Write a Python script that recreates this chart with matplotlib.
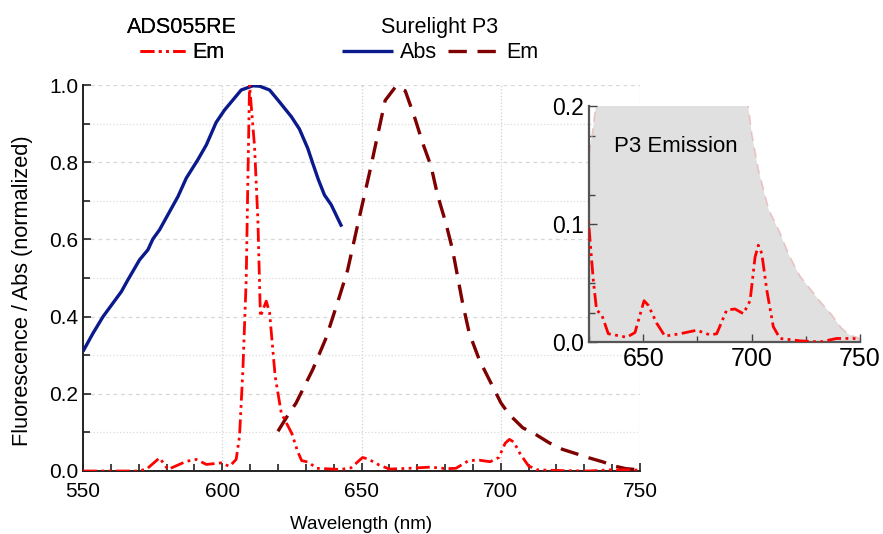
import matplotlib
matplotlib.use("Agg")
import matplotlib.pyplot as plt
from matplotlib.ticker import MultipleLocator, FixedLocator

plt.rcParams['font.family'] = ['Liberation Sans', 'DejaVu Sans']

# ---- data ----
abs_wl = [550, 553.6, 557.2, 563.8, 566.1, 570.3, 573.3, 575.1, 577.5, 581.1, 584.1, 587.1,
          591.2, 594.3, 597.8, 600.8, 603.8, 606.8, 611.0, 613.4, 617.0, 620.0, 624.8, 627.7,
          630.7, 632.5, 634.5, 636.7, 639.1, 642.9]
abs_val = [0.31, 0.357, 0.40, 0.465, 0.495, 0.547, 0.573, 0.601, 0.625, 0.672, 0.711, 0.759,
           0.806, 0.845, 0.903, 0.935, 0.961, 0.987, 0.998, 0.997, 0.987, 0.961, 0.918, 0.886,
           0.836, 0.797, 0.755, 0.715, 0.69, 0.633]

p3em_wl = [620, 623, 626.5, 632.5, 637.3, 642, 645, 649, 652.8, 655.2, 658.5, 662.4, 665.7,
           669, 672, 675, 677.3, 680.3, 682.7, 686.3, 688.7, 692.3, 697.1, 700.1, 703.1,
           707.9, 712.7, 717.4, 722.2, 727, 731.7, 736.5, 741.3, 745, 750]
p3em_val = [0.103, 0.138, 0.176, 0.263, 0.345, 0.45, 0.52, 0.65, 0.77, 0.85, 0.96, 0.997, 0.985,
            0.918, 0.849, 0.789, 0.715, 0.642, 0.573, 0.435, 0.357, 0.288, 0.219, 0.176, 0.146,
            0.112, 0.094, 0.073, 0.056, 0.045, 0.034, 0.024, 0.012, 0.006, 0.003]

ads_wl = [550, 560, 569, 572.7, 577.5, 580.5, 587.1, 590.7, 594.3, 599.6, 602.6, 605, 606.2,
          607.4, 608.6, 609.2, 609.8, 611.6, 612.8, 613.7, 615.8, 617, 619, 621.2, 625, 627,
          628.5, 630.9, 633.9, 642.4, 646.2, 650.4, 652.4, 656.2, 660, 667, 674.7, 680.8,
          683.9, 688.5, 692.3, 696.2, 699.3, 701.6, 703.1, 704.7, 707, 710, 713.1, 722.3,
          731.5, 739.2, 746.9, 750]
ads_val = [0, 0, 0, 0.004, 0.034, 0.004, 0.025, 0.03, 0.017, 0.021, 0.012, 0.03, 0.09,
           0.26, 0.495, 0.754, 1.0, 0.84, 0.65, 0.40, 0.44, 0.41, 0.245, 0.15, 0.097, 0.052,
           0.027, 0.023, 0.007, 0.004, 0.008, 0.035, 0.031, 0.016, 0.005, 0.007, 0.010, 0.006,
           0.007, 0.027, 0.028, 0.024, 0.035, 0.072, 0.082, 0.075, 0.044, 0.013, 0.003, 0.001,
           0.0, 0.003, 0.003, 0.002]

main_xticks = [550, 600, 650, 700, 750]
main_yticks = [0.0, 0.2, 0.4, 0.6, 0.8, 1.0]
inset_xticks = [650, 700, 750]
inset_yticks = [0.0, 0.1, 0.2]
inset_yminor = [0.025, 0.05, 0.125, 0.175]

C_ABS = '#0a1a8c'
C_P3 = '#7f0000'
C_ADS = '#ff0000'
ADS_DASH = (0, (5, 1.6, 1.0, 1.6, 1.0, 1.6))
P3_DASH = (0, (5.5, 3.2))

fig = plt.figure(figsize=(8.83, 5.34), dpi=100)
ax = fig.add_axes([83/883, 1-471/534, 557/883, 386/534])

l_abs, = ax.plot(abs_wl, abs_val, color=C_ABS, lw=2.4, solid_capstyle='butt', zorder=4)
l_p3, = ax.plot(p3em_wl, p3em_val, color=C_P3, lw=2.4, linestyle=P3_DASH, zorder=4)
l_ads, = ax.plot(ads_wl, ads_val, color=C_ADS, lw=2.0, linestyle=ADS_DASH, zorder=5)

ax.set_xlim(550, 750)
ax.set_ylim(0, 1.0)
ax.set_xticks(main_xticks)
ax.set_yticks(main_yticks)
ax.set_yticklabels([f"{v:.1f}" for v in main_yticks])
ax.xaxis.set_minor_locator(MultipleLocator(10))
ax.yaxis.set_minor_locator(MultipleLocator(0.1))
ax.tick_params(which='both', direction='in', labelsize=15, color='#222222', width=1.2)
ax.tick_params(which='major', length=6)
ax.tick_params(which='minor', length=5)
ax.tick_params(axis='x', pad=8)
for s in ['top', 'right']:
    ax.spines[s].set_visible(False)
for s in ['left', 'bottom']:
    ax.spines[s].set_linewidth(1.4)
    ax.spines[s].set_color('#222222')
ax.grid(axis='x', which='major', linestyle=':', color='#d0d0d0', lw=0.9)
ax.grid(axis='y', which='major', linestyle=(0, (3, 3)), color='#d6d6d6', lw=0.9)
ax.grid(axis='y', which='minor', linestyle=':', color='#dcdcdc', lw=0.9)
ax.set_axisbelow(True)
ax.set_xlabel('Wavelength (nm)', fontsize=13.5, labelpad=11)
ax.set_ylabel('Fluorescence / Abs (normalized)', fontsize=15.7)
ax.yaxis.set_label_coords(-0.089, 0.466)

# legends
leg1 = fig.legend([l_ads], ['Em'], title='ADS055RE', loc='upper center',
                  bbox_to_anchor=(182/883, 1 - 2/534), frameon=False, fontsize=15.5,
                  title_fontsize=15.5, handlelength=2.1, handletextpad=0.3,
                  borderaxespad=0.3, labelspacing=0.2)
leg1._legend_box.sep = 3
fig.add_artist(leg1)
leg2 = fig.legend([l_abs, l_p3], ['Abs', 'Em'], title='Surelight P3', loc='upper center',
                  bbox_to_anchor=(440/883, 1 - 2/534), frameon=False, fontsize=15.5,
                  title_fontsize=15.5, ncol=2, handlelength=2.4, handletextpad=0.28,
                  columnspacing=0.55, borderaxespad=0.3)
leg2._legend_box.sep = 3

# inset
ins = fig.add_axes([589/883, 1-342/534, 271/883, 236/534])
ins.patch.set_alpha(0)
ins.fill_between(p3em_wl, 0, p3em_val, color='#e0e0e0', lw=0, zorder=1)
ins.plot(p3em_wl, p3em_val, color='#e8b0b0', lw=1.2, linestyle=(0, (6, 4)), alpha=0.7, zorder=2)
ins.plot(ads_wl, ads_val, color=C_ADS, lw=2.0, linestyle=ADS_DASH, zorder=3)
ins.set_xlim(625, 750)
ins.set_ylim(0, 0.2)
ins.set_xticks(inset_xticks)
ins.set_yticks(inset_yticks)
ins.set_yticklabels([f"{v:.1f}" for v in inset_yticks])
ins.yaxis.set_minor_locator(FixedLocator(inset_yminor))
ins.xaxis.set_minor_locator(MultipleLocator(25))
ins.tick_params(which='both', direction='in', color='#444444', width=1.0)
ins.tick_params(axis='x', labelsize=18)
ins.tick_params(axis='y', labelsize=16.5)
ins.tick_params(which='major', length=6)
ins.tick_params(which='minor', length=4)
for s in ['top', 'right']:
    ins.spines[s].set_visible(False)
for s in ['left', 'bottom']:
    ins.spines[s].set_linewidth(1.6)
    ins.spines[s].set_color('#555555')
ins.text(636.5, 0.166, 'P3 Emission', fontsize=16, ha='left', va='center', zorder=4)

fig.savefig('out.png', dpi=100)
